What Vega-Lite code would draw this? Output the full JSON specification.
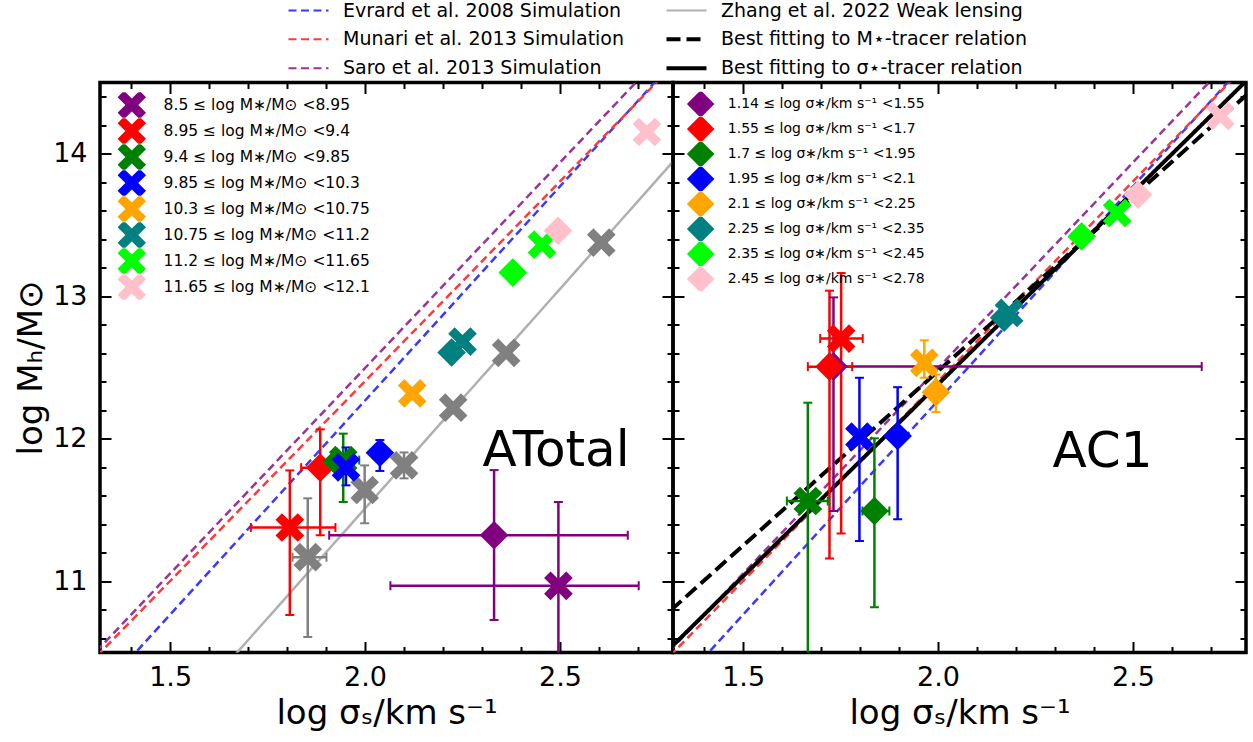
{
"$schema": "https://vega.github.io/schema/vega-lite/v6.json",
"autosize": {"type": "none"},
"padding": {"left": 100, "top": 82.5, "right": 1153, "bottom": 659.5},
"background": "white",
"config": {
  "font": "DejaVu Sans",
  "view": {"stroke": "black", "strokeWidth": 3.5},
  "axis": {"grid": false, "domain": false, "tickColor": "black", "tickWidth": 2, "labelColor": "black", "titleColor": "black", "titleFontWeight": "normal", "labelFont": "DejaVu Sans", "titleFont": "DejaVu Sans"},
  "legend": {"labelColor": "black", "labelFont": "DejaVu Sans"}
},
"datasets": {
  "lines": [
    {"p": "L", "s": "Evrard et al. 2008 Simulation", "x": 1.2, "y": 9.865},
    {"p": "L", "s": "Evrard et al. 2008 Simulation", "x": 2.9, "y": 14.972},
    {"p": "L", "s": "Munari et al. 2013 Simulation", "x": 1.2, "y": 10.161},
    {"p": "L", "s": "Munari et al. 2013 Simulation", "x": 2.9, "y": 14.927},
    {"p": "L", "s": "Saro et al. 2013 Simulation", "x": 1.2, "y": 10.189},
    {"p": "L", "s": "Saro et al. 2013 Simulation", "x": 2.9, "y": 15.092},
    {"p": "L", "s": "Zhang et al. 2022 Weak lensing", "x": 1.2, "y": 9.047},
    {"p": "L", "s": "Zhang et al. 2022 Weak lensing", "x": 2.9, "y": 14.283},
    {"p": "R", "s": "Evrard et al. 2008 Simulation", "x": 1.2, "y": 9.865},
    {"p": "R", "s": "Evrard et al. 2008 Simulation", "x": 2.9, "y": 14.972},
    {"p": "R", "s": "Munari et al. 2013 Simulation", "x": 1.2, "y": 10.161},
    {"p": "R", "s": "Munari et al. 2013 Simulation", "x": 2.9, "y": 14.927},
    {"p": "R", "s": "Saro et al. 2013 Simulation", "x": 1.2, "y": 10.189},
    {"p": "R", "s": "Saro et al. 2013 Simulation", "x": 2.9, "y": 15.092},
    {"p": "R", "s": "Best fitting to M⋆-tracer relation", "x": 1.2, "y": 10.516},
    {"p": "R", "s": "Best fitting to M⋆-tracer relation", "x": 2.9, "y": 14.678},
    {"p": "R", "s": "Best fitting to σ⋆-tracer relation", "x": 1.2, "y": 10.227},
    {"p": "R", "s": "Best fitting to σ⋆-tracer relation", "x": 2.9, "y": 14.806}
  ],
  "texts": [
    {"p": "L", "t": "ATotal", "x": 2.49, "y": 11.809},
    {"p": "R", "t": "AC1", "x": 2.422, "y": 11.799}
  ],
  "pts": [
    {"p": "L", "k": "Z", "c": "Zhang", "x": 1.853, "y": 11.169, "xl": 1.814, "xh": 1.901, "yl": 10.609, "yh": 11.582},
    {"p": "L", "k": "Z", "c": "Zhang", "x": 1.999, "y": 11.64, "xl": 1.999, "xh": 1.999, "yl": 11.407, "yh": 11.813},
    {"p": "L", "k": "Z", "c": "Zhang", "x": 2.1, "y": 11.813, "xl": 2.1, "xh": 2.1, "yl": 11.722, "yh": 11.904},
    {"p": "L", "k": "Z", "c": "Zhang", "x": 2.226, "y": 12.218, "xl": 2.226, "xh": 2.226, "yl": 12.218, "yh": 12.218},
    {"p": "L", "k": "Z", "c": "Zhang", "x": 2.362, "y": 12.603, "xl": 2.362, "xh": 2.362, "yl": 12.603, "yh": 12.603},
    {"p": "L", "k": "Z", "c": "Zhang", "x": 2.606, "y": 13.376, "xl": 2.606, "xh": 2.606, "yl": 13.376, "yh": 13.376},
    {"p": "L", "k": "X", "c": "8.5 ≤ log M∗/M⊙ <8.95", "x": 2.496, "y": 10.968, "xl": 2.065, "xh": 2.702, "yl": 10.2, "yh": 11.556},
    {"p": "L", "k": "D", "c": "1.14 ≤ log σ∗/km s⁻¹ <1.55", "x": 2.331, "y": 11.323, "xl": 1.908, "xh": 2.674, "yl": 10.728, "yh": 11.78},
    {"p": "L", "k": "X", "c": "8.95 ≤ log M∗/M⊙ <9.4", "x": 1.807, "y": 11.377, "xl": 1.707, "xh": 1.924, "yl": 10.763, "yh": 11.778},
    {"p": "L", "k": "D", "c": "1.55 ≤ log σ∗/km s⁻¹ <1.7", "x": 1.885, "y": 11.797, "xl": 1.836, "xh": 1.918, "yl": 11.323, "yh": 12.066},
    {"p": "L", "k": "D", "c": "1.7 ≤ log σ∗/km s⁻¹ <1.95", "x": 1.928, "y": 11.84, "xl": 1.928, "xh": 1.928, "yl": 11.84, "yh": 11.84},
    {"p": "L", "k": "X", "c": "9.4 ≤ log M∗/M⊙ <9.85", "x": 1.944, "y": 11.85, "xl": 1.915, "xh": 1.985, "yl": 11.556, "yh": 12.036},
    {"p": "L", "k": "X", "c": "9.85 ≤ log M∗/M⊙ <10.3", "x": 1.951, "y": 11.799, "xl": 1.951, "xh": 1.951, "yl": 11.673, "yh": 11.939},
    {"p": "L", "k": "D", "c": "1.95 ≤ log σ∗/km s⁻¹ <2.1", "x": 2.038, "y": 11.902, "xl": 2.038, "xh": 2.038, "yl": 11.774, "yh": 11.991},
    {"p": "L", "k": "X", "c": "10.3 ≤ log M∗/M⊙ <10.75", "x": 2.121, "y": 12.318, "xl": 2.121, "xh": 2.121, "yl": 12.318, "yh": 12.318},
    {"p": "L", "k": "D", "c": "2.25 ≤ log σ∗/km s⁻¹ <2.35", "x": 2.222, "y": 12.605, "xl": 2.222, "xh": 2.222, "yl": 12.605, "yh": 12.605},
    {"p": "L", "k": "X", "c": "10.75 ≤ log M∗/M⊙ <11.2", "x": 2.25, "y": 12.682, "xl": 2.25, "xh": 2.25, "yl": 12.682, "yh": 12.682},
    {"p": "L", "k": "D", "c": "2.35 ≤ log σ∗/km s⁻¹ <2.45", "x": 2.379, "y": 13.166, "xl": 2.379, "xh": 2.379, "yl": 13.166, "yh": 13.166},
    {"p": "L", "k": "X", "c": "11.2 ≤ log M∗/M⊙ <11.65", "x": 2.454, "y": 13.362, "xl": 2.454, "xh": 2.454, "yl": 13.362, "yh": 13.362},
    {"p": "L", "k": "D", "c": "2.45 ≤ log σ∗/km s⁻¹ <2.78", "x": 2.495, "y": 13.46, "xl": 2.495, "xh": 2.495, "yl": 13.46, "yh": 13.46},
    {"p": "L", "k": "X", "c": "11.65 ≤ log M∗/M⊙ <12.1", "x": 2.723, "y": 14.153, "xl": 2.723, "xh": 2.723, "yl": 14.153, "yh": 14.153},
    {"p": "R", "k": "D", "c": "1.14 ≤ log σ∗/km s⁻¹ <1.55", "x": 1.7317, "y": 12.507, "xl": 1.7, "xh": 2.6764, "yl": 11.493, "yh": 12.992},
    {"p": "R", "k": "D", "c": "1.55 ≤ log σ∗/km s⁻¹ <1.7", "x": 1.7215, "y": 12.506, "xl": 1.6659, "xh": 1.7796, "yl": 11.16, "yh": 13.039},
    {"p": "R", "k": "X", "c": "8.95 ≤ log M∗/M⊙ <9.4", "x": 1.7514, "y": 12.703, "xl": 1.6976, "xh": 1.8067, "yl": 11.335, "yh": 13.163},
    {"p": "R", "k": "X", "c": "9.4 ≤ log M∗/M⊙ <9.85", "x": 1.6659, "y": 11.563, "xl": 1.6121, "xh": 1.7171, "yl": 10.2, "yh": 12.253},
    {"p": "R", "k": "D", "c": "1.7 ≤ log σ∗/km s⁻¹ <1.95", "x": 1.8367, "y": 11.493, "xl": 1.806, "xh": 1.8751, "yl": 10.817, "yh": 12.003},
    {"p": "R", "k": "X", "c": "9.85 ≤ log M∗/M⊙ <10.3", "x": 1.7983, "y": 12.015, "xl": 1.7983, "xh": 1.7983, "yl": 11.283, "yh": 12.428},
    {"p": "R", "k": "D", "c": "1.95 ≤ log σ∗/km s⁻¹ <2.1", "x": 1.8963, "y": 12.019, "xl": 1.8963, "xh": 1.8963, "yl": 11.435, "yh": 12.362},
    {"p": "R", "k": "X", "c": "10.3 ≤ log M∗/M⊙ <10.75", "x": 1.9647, "y": 12.533, "xl": 1.9647, "xh": 1.9647, "yl": 12.428, "yh": 12.691},
    {"p": "R", "k": "D", "c": "2.1 ≤ log σ∗/km s⁻¹ <2.25", "x": 1.9946, "y": 12.327, "xl": 1.9946, "xh": 1.9946, "yl": 12.187, "yh": 12.451},
    {"p": "R", "k": "D", "c": "2.25 ≤ log σ∗/km s⁻¹ <2.35", "x": 2.1695, "y": 12.85, "xl": 2.1695, "xh": 2.1695, "yl": 12.85, "yh": 12.85},
    {"p": "R", "k": "X", "c": "10.75 ≤ log M∗/M⊙ <11.2", "x": 2.1823, "y": 12.883, "xl": 2.1823, "xh": 2.1823, "yl": 12.883, "yh": 12.883},
    {"p": "R", "k": "D", "c": "2.35 ≤ log σ∗/km s⁻¹ <2.45", "x": 2.3684, "y": 13.42, "xl": 2.3684, "xh": 2.3684, "yl": 13.42, "yh": 13.42},
    {"p": "R", "k": "X", "c": "11.2 ≤ log M∗/M⊙ <11.65", "x": 2.4596, "y": 13.584, "xl": 2.4596, "xh": 2.4596, "yl": 13.584, "yh": 13.584},
    {"p": "R", "k": "D", "c": "2.45 ≤ log σ∗/km s⁻¹ <2.78", "x": 2.5133, "y": 13.712, "xl": 2.5133, "xh": 2.5133, "yl": 13.712, "yh": 13.712},
    {"p": "R", "k": "X", "c": "11.65 ≤ log M∗/M⊙ <12.1", "x": 2.7243, "y": 14.265, "xl": 2.7243, "xh": 2.7243, "yl": 14.265, "yh": 14.265}
  ]
},
"spacing": 0,
"bounds": "flush",
"resolve": {"scale": {"color": "independent", "stroke": "independent", "strokeDash": "independent", "shape": "independent", "fill": "independent"}},
"hconcat": [
{
  "width": 573, "height": 570,
  "resolve": {"axis": {"x": "independent", "y": "independent"}},
  "layer": [
    {"data": {"name": "lines"}, "transform": [{"filter": "datum.p == 'L'"}],
     "mark": {"type": "line", "clip": true},
     "encoding": {
       "x": {"field": "x", "type": "quantitative", "scale": {"domain": [1.32, 2.79], "nice": false, "zero": false},
             "axis": {"orient": "bottom", "values": [1.5, 2.0, 2.5], "tickSize": -11, "labelExpr": "format(datum.value,'.1f')", "labelFontSize": 27, "labelPadding": 23, "labelFlush": false, "labelOverlap": false, "title": "log σₛ/km s⁻¹", "titleFontSize": 34, "titlePadding": 6}},
       "y": {"field": "y", "type": "quantitative", "scale": {"domain": [10.5, 14.5], "nice": false, "zero": false},
             "axis": {"orient": "left", "values": [11, 12, 13, 14], "tickSize": -11, "labelExpr": "format(datum.value,'d')", "labelFontSize": 27, "labelPadding": 24, "labelFlush": false, "labelOverlap": false, "title": "log Mₕ/M⊙", "titleFontSize": 34, "titlePadding": 4}},
       "stroke": {"field": "s", "type": "nominal",
         "scale": {"domain": ["Evrard et al. 2008 Simulation", "Munari et al. 2013 Simulation", "Saro et al. 2013 Simulation", "Zhang et al. 2022 Weak lensing", "Best fitting to M⋆-tracer relation", "Best fitting to σ⋆-tracer relation"], "range": ["#3a3aff", "#ff3a3a", "#993399", "#b0b0b0", "#000000", "#000000"]},
         "legend": {"title": null, "orient": "none", "legendX": 199, "legendY": -81.7, "columns": 2, "columnPadding": 33, "rowPadding": 9, "symbolType": "stroke", "symbolSize": 1600, "labelFontSize": 19, "labelOffset": 25, "labelLimit": 600, "padding": 0, "encode": {"symbols": {"update": {"strokeWidth": {"signal": "(datum.value == 'Best fitting to M⋆-tracer relation' || datum.value == 'Best fitting to σ⋆-tracer relation') ? 4 : 2"}}}}}},
       "strokeDash": {"field": "s", "type": "nominal",
         "scale": {"domain": ["Evrard et al. 2008 Simulation", "Munari et al. 2013 Simulation", "Saro et al. 2013 Simulation", "Zhang et al. 2022 Weak lensing", "Best fitting to M⋆-tracer relation", "Best fitting to σ⋆-tracer relation"], "range": [[8,4.5],[8,4.5],[8,4.5],[1,0],[14,6],[1,0]]},
         "legend": {"title": null, "orient": "none", "legendX": 199, "legendY": -81.7, "columns": 2, "columnPadding": 33, "rowPadding": 9, "symbolType": "stroke", "symbolSize": 1600, "labelFontSize": 19, "labelOffset": 25, "labelLimit": 600, "padding": 0, "encode": {"symbols": {"update": {"strokeWidth": {"signal": "(datum.value == 'Best fitting to M⋆-tracer relation' || datum.value == 'Best fitting to σ⋆-tracer relation') ? 4 : 2"}}}}}},
       "strokeWidth": {"condition": {"test": "datum.s == 'Best fitting to M⋆-tracer relation' || datum.s == 'Best fitting to σ⋆-tracer relation'", "value": 4}, "value": 2.5}
     }},
    {"data": {"name": "pts"}, "transform": [{"filter": "datum.p == 'L' && datum.yl < datum.yh"}],
     "mark": {"type": "rule", "clip": true, "strokeWidth": 2.5},
     "encoding": {
       "x": {"field": "x", "type": "quantitative", "scale": {"domain": [1.32, 2.79], "nice": false, "zero": false},
             "axis": {"orient": "bottom", "values": [1.4,1.6,1.7,1.8,1.9,2.1,2.2,2.3,2.4,2.6,2.7], "tickSize": -6, "labels": false, "title": null}},
       "y": {"field": "yl", "type": "quantitative", "scale": {"domain": [10.5, 14.5], "nice": false, "zero": false},
             "axis": {"orient": "left", "values": [10.6,10.8,11.2,11.4,11.6,11.8,12.2,12.4,12.6,12.8,13.2,13.4,13.6,13.8,14.2,14.4], "tickSize": -6, "labels": false, "title": null}},
       "y2": {"field": "yh"},
       "color": {"field": "c", "type": "nominal", "legend": null,
         "scale": {"domain": ["8.5 ≤ log M∗/M⊙ <8.95", "8.95 ≤ log M∗/M⊙ <9.4", "9.4 ≤ log M∗/M⊙ <9.85", "9.85 ≤ log M∗/M⊙ <10.3", "10.3 ≤ log M∗/M⊙ <10.75", "10.75 ≤ log M∗/M⊙ <11.2", "11.2 ≤ log M∗/M⊙ <11.65", "11.65 ≤ log M∗/M⊙ <12.1", "1.14 ≤ log σ∗/km s⁻¹ <1.55", "1.55 ≤ log σ∗/km s⁻¹ <1.7", "1.7 ≤ log σ∗/km s⁻¹ <1.95", "1.95 ≤ log σ∗/km s⁻¹ <2.1", "2.1 ≤ log σ∗/km s⁻¹ <2.25", "2.25 ≤ log σ∗/km s⁻¹ <2.35", "2.35 ≤ log σ∗/km s⁻¹ <2.45", "2.45 ≤ log σ∗/km s⁻¹ <2.78", "Zhang", "_"],
                   "range": ["#800080", "#ff0000", "#008000", "#0000ff", "#ffa500", "#008080", "#00ff00", "#ffc0cb", "#800080", "#ff0000", "#008000", "#0000ff", "#ffa500", "#008080", "#00ff00", "#ffc0cb", "#808080", "#000000"]}}
     }},
    {"data": {"name": "pts"}, "transform": [{"filter": "datum.p == 'L' && datum.xl < datum.xh"}],
     "mark": {"type": "rule", "clip": true, "strokeWidth": 2.5},
     "encoding": {
       "x": {"field": "xl", "type": "quantitative",
             "axis": {"orient": "top", "values": [1.4,1.6,1.7,1.8,1.9,2.1,2.2,2.3,2.4,2.6,2.7], "tickSize": -6, "labels": false, "title": null}},
       "x2": {"field": "xh"},
       "y": {"field": "y", "type": "quantitative",
             "axis": {"orient": "right", "values": [10.6,10.8,11.2,11.4,11.6,11.8,12.2,12.4,12.6,12.8,13.2,13.4,13.6,13.8,14.2,14.4], "tickSize": -6, "labels": false, "title": null}},
       "color": {"field": "c", "type": "nominal", "legend": null}
     }},
    {"data": {"name": "pts"}, "transform": [{"filter": "datum.p == 'L' && datum.yl < datum.yh"}],
     "mark": {"type": "tick", "orient": "horizontal", "size": 9, "thickness": 2, "clip": true, "opacity": 1},
     "encoding": {
       "x": {"field": "x", "type": "quantitative", "axis": null},
       "y": {"field": "yl", "type": "quantitative", "axis": null},
       "color": {"field": "c", "type": "nominal", "legend": null}
     }},
    {"data": {"name": "pts"}, "transform": [{"filter": "datum.p == 'L' && datum.yl < datum.yh"}],
     "mark": {"type": "tick", "orient": "horizontal", "size": 9, "thickness": 2, "clip": true, "opacity": 1},
     "encoding": {
       "x": {"field": "x", "type": "quantitative", "axis": null},
       "y": {"field": "yh", "type": "quantitative", "axis": null},
       "color": {"field": "c", "type": "nominal", "legend": null}
     }},
    {"data": {"name": "pts"}, "transform": [{"filter": "datum.p == 'L' && datum.xl < datum.xh"}],
     "mark": {"type": "tick", "orient": "vertical", "size": 9, "thickness": 2, "clip": true, "opacity": 1},
     "encoding": {
       "x": {"field": "xl", "type": "quantitative", "axis": null},
       "y": {"field": "y", "type": "quantitative", "axis": null},
       "color": {"field": "c", "type": "nominal", "legend": null}
     }},
    {"data": {"name": "pts"}, "transform": [{"filter": "datum.p == 'L' && datum.xl < datum.xh"}],
     "mark": {"type": "tick", "orient": "vertical", "size": 9, "thickness": 2, "clip": true, "opacity": 1},
     "encoding": {
       "x": {"field": "xh", "type": "quantitative", "axis": null},
       "y": {"field": "y", "type": "quantitative", "axis": null},
       "color": {"field": "c", "type": "nominal", "legend": null}
     }},
    {"data": {"name": "pts"}, "transform": [{"filter": "datum.p == 'L'"}],
     "mark": {"type": "point", "filled": true, "size": 820, "opacity": 1, "strokeWidth": 0, "clip": true},
     "encoding": {
       "x": {"field": "x", "type": "quantitative",
             "axis": {"orient": "top", "values": [1.5, 2.0, 2.5], "tickSize": -11, "labels": false, "title": null}},
       "y": {"field": "y", "type": "quantitative",
             "axis": {"orient": "right", "values": [11, 12, 13, 14], "tickSize": -11, "labels": false, "title": null}},
       "fill": {"field": "c", "type": "nominal",
         "scale": {"domain": ["8.5 ≤ log M∗/M⊙ <8.95", "8.95 ≤ log M∗/M⊙ <9.4", "9.4 ≤ log M∗/M⊙ <9.85", "9.85 ≤ log M∗/M⊙ <10.3", "10.3 ≤ log M∗/M⊙ <10.75", "10.75 ≤ log M∗/M⊙ <11.2", "11.2 ≤ log M∗/M⊙ <11.65", "11.65 ≤ log M∗/M⊙ <12.1", "1.14 ≤ log σ∗/km s⁻¹ <1.55", "1.55 ≤ log σ∗/km s⁻¹ <1.7", "1.7 ≤ log σ∗/km s⁻¹ <1.95", "1.95 ≤ log σ∗/km s⁻¹ <2.1", "2.1 ≤ log σ∗/km s⁻¹ <2.25", "2.25 ≤ log σ∗/km s⁻¹ <2.35", "2.35 ≤ log σ∗/km s⁻¹ <2.45", "2.45 ≤ log σ∗/km s⁻¹ <2.78", "Zhang"],
                   "range": ["#800080", "#ff0000", "#008000", "#0000ff", "#ffa500", "#008080", "#00ff00", "#ffc0cb", "#800080", "#ff0000", "#008000", "#0000ff", "#ffa500", "#008080", "#00ff00", "#ffc0cb", "#808080"]},
         "legend": {"title": null, "orient": "none", "legendX": 17.3, "legendY": 9.8, "values": ["8.5 ≤ log M∗/M⊙ <8.95", "8.95 ≤ log M∗/M⊙ <9.4", "9.4 ≤ log M∗/M⊙ <9.85", "9.85 ≤ log M∗/M⊙ <10.3", "10.3 ≤ log M∗/M⊙ <10.75", "10.75 ≤ log M∗/M⊙ <11.2", "11.2 ≤ log M∗/M⊙ <11.65", "11.65 ≤ log M∗/M⊙ <12.1"], "symbolType": "M-1,-0.55L-0.55,-1L0,-0.45L0.55,-1L1,-0.55L0.45,0L1,0.55L0.55,1L0,0.45L-0.55,1L-1,0.55L-0.45,0Z", "symbolSize": 645, "symbolOpacity": 1, "symbolStrokeWidth": 0, "labelFontSize": 15.5, "labelOffset": 17.3, "rowPadding": 0, "clipHeight": 25.4, "padding": 0, "labelLimit": 500, "encode": {"symbols": {"update": {"size": {"value": 810}}}}}},
       "shape": {"field": "k", "type": "nominal", "scale": {"domain": ["X", "D", "Z"], "range": ["M-1,-0.55L-0.55,-1L0,-0.45L0.55,-1L1,-0.55L0.45,0L1,0.55L0.55,1L0,0.45L-0.55,1L-1,0.55L-0.45,0Z", "diamond", "M-1,-0.55L-0.55,-1L0,-0.45L0.55,-1L1,-0.55L0.45,0L1,0.55L0.55,1L0,0.45L-0.55,1L-1,0.55L-0.45,0Z"]}, "legend": null}
     }},
    {"data": {"name": "texts"}, "transform": [{"filter": "datum.p == 'L'"}],
     "mark": {"type": "text", "fontSize": 50, "align": "center", "baseline": "alphabetic", "color": "black", "font": "DejaVu Sans"},
     "encoding": {
       "x": {"field": "x", "type": "quantitative", "axis": null},
       "y": {"field": "y", "type": "quantitative", "axis": null},
       "text": {"field": "t"}
     }}
  ]
},
{
  "width": 573, "height": 570,
  "resolve": {"axis": {"x": "independent", "y": "independent"}},
  "layer": [
    {"data": {"name": "lines"}, "transform": [{"filter": "datum.p == 'R'"}],
     "mark": {"type": "line", "clip": true},
     "encoding": {
       "x": {"field": "x", "type": "quantitative", "scale": {"domain": [1.32, 2.79], "nice": false, "zero": false},
             "axis": {"orient": "bottom", "values": [1.5, 2.0, 2.5], "tickSize": -11, "labelExpr": "format(datum.value,'.1f')", "labelFontSize": 27, "labelPadding": 23, "labelFlush": false, "labelOverlap": false, "title": "log σₛ/km s⁻¹", "titleFontSize": 34, "titlePadding": 6}},
       "y": {"field": "y", "type": "quantitative", "scale": {"domain": [10.5, 14.5], "nice": false, "zero": false},
             "axis": {"orient": "left", "values": [11, 12, 13, 14], "tickSize": -11, "labels": false, "title": null}},
       "stroke": {"field": "s", "type": "nominal",
         "scale": {"domain": ["Evrard et al. 2008 Simulation", "Munari et al. 2013 Simulation", "Saro et al. 2013 Simulation", "Zhang et al. 2022 Weak lensing", "Best fitting to M⋆-tracer relation", "Best fitting to σ⋆-tracer relation"], "range": ["#3a3aff", "#ff3a3a", "#993399", "#b0b0b0", "#000000", "#000000"]},
         "legend": null},
       "strokeDash": {"field": "s", "type": "nominal",
         "scale": {"domain": ["Evrard et al. 2008 Simulation", "Munari et al. 2013 Simulation", "Saro et al. 2013 Simulation", "Zhang et al. 2022 Weak lensing", "Best fitting to M⋆-tracer relation", "Best fitting to σ⋆-tracer relation"], "range": [[8,4.5],[8,4.5],[8,4.5],[1,0],[14,6],[1,0]]},
         "legend": null},
       "strokeWidth": {"condition": {"test": "datum.s == 'Best fitting to M⋆-tracer relation' || datum.s == 'Best fitting to σ⋆-tracer relation'", "value": 4}, "value": 2.5}
     }},
    {"data": {"name": "pts"}, "transform": [{"filter": "datum.p == 'R' && datum.yl < datum.yh"}],
     "mark": {"type": "rule", "clip": true, "strokeWidth": 2.5},
     "encoding": {
       "x": {"field": "x", "type": "quantitative", "scale": {"domain": [1.32, 2.79], "nice": false, "zero": false},
             "axis": {"orient": "bottom", "values": [1.4,1.6,1.7,1.8,1.9,2.1,2.2,2.3,2.4,2.6,2.7], "tickSize": -6, "labels": false, "title": null}},
       "y": {"field": "yl", "type": "quantitative", "scale": {"domain": [10.5, 14.5], "nice": false, "zero": false},
             "axis": {"orient": "left", "values": [10.6,10.8,11.2,11.4,11.6,11.8,12.2,12.4,12.6,12.8,13.2,13.4,13.6,13.8,14.2,14.4], "tickSize": -6, "labels": false, "title": null}},
       "y2": {"field": "yh"},
       "color": {"field": "c", "type": "nominal", "legend": null,
         "scale": {"domain": ["8.5 ≤ log M∗/M⊙ <8.95", "8.95 ≤ log M∗/M⊙ <9.4", "9.4 ≤ log M∗/M⊙ <9.85", "9.85 ≤ log M∗/M⊙ <10.3", "10.3 ≤ log M∗/M⊙ <10.75", "10.75 ≤ log M∗/M⊙ <11.2", "11.2 ≤ log M∗/M⊙ <11.65", "11.65 ≤ log M∗/M⊙ <12.1", "1.14 ≤ log σ∗/km s⁻¹ <1.55", "1.55 ≤ log σ∗/km s⁻¹ <1.7", "1.7 ≤ log σ∗/km s⁻¹ <1.95", "1.95 ≤ log σ∗/km s⁻¹ <2.1", "2.1 ≤ log σ∗/km s⁻¹ <2.25", "2.25 ≤ log σ∗/km s⁻¹ <2.35", "2.35 ≤ log σ∗/km s⁻¹ <2.45", "2.45 ≤ log σ∗/km s⁻¹ <2.78", "Zhang", "_"],
                   "range": ["#800080", "#ff0000", "#008000", "#0000ff", "#ffa500", "#008080", "#00ff00", "#ffc0cb", "#800080", "#ff0000", "#008000", "#0000ff", "#ffa500", "#008080", "#00ff00", "#ffc0cb", "#808080", "#000000"]}}
     }},
    {"data": {"name": "pts"}, "transform": [{"filter": "datum.p == 'R' && datum.xl < datum.xh"}],
     "mark": {"type": "rule", "clip": true, "strokeWidth": 2.5},
     "encoding": {
       "x": {"field": "xl", "type": "quantitative",
             "axis": {"orient": "top", "values": [1.4,1.6,1.7,1.8,1.9,2.1,2.2,2.3,2.4,2.6,2.7], "tickSize": -6, "labels": false, "title": null}},
       "x2": {"field": "xh"},
       "y": {"field": "y", "type": "quantitative",
             "axis": {"orient": "right", "values": [10.6,10.8,11.2,11.4,11.6,11.8,12.2,12.4,12.6,12.8,13.2,13.4,13.6,13.8,14.2,14.4], "tickSize": -6, "labels": false, "title": null}},
       "color": {"field": "c", "type": "nominal", "legend": null}
     }},
    {"data": {"name": "pts"}, "transform": [{"filter": "datum.p == 'R' && datum.yl < datum.yh"}],
     "mark": {"type": "tick", "orient": "horizontal", "size": 9, "thickness": 2, "clip": true, "opacity": 1},
     "encoding": {
       "x": {"field": "x", "type": "quantitative", "axis": null},
       "y": {"field": "yl", "type": "quantitative", "axis": null},
       "color": {"field": "c", "type": "nominal", "legend": null}
     }},
    {"data": {"name": "pts"}, "transform": [{"filter": "datum.p == 'R' && datum.yl < datum.yh"}],
     "mark": {"type": "tick", "orient": "horizontal", "size": 9, "thickness": 2, "clip": true, "opacity": 1},
     "encoding": {
       "x": {"field": "x", "type": "quantitative", "axis": null},
       "y": {"field": "yh", "type": "quantitative", "axis": null},
       "color": {"field": "c", "type": "nominal", "legend": null}
     }},
    {"data": {"name": "pts"}, "transform": [{"filter": "datum.p == 'R' && datum.xl < datum.xh"}],
     "mark": {"type": "tick", "orient": "vertical", "size": 9, "thickness": 2, "clip": true, "opacity": 1},
     "encoding": {
       "x": {"field": "xl", "type": "quantitative", "axis": null},
       "y": {"field": "y", "type": "quantitative", "axis": null},
       "color": {"field": "c", "type": "nominal", "legend": null}
     }},
    {"data": {"name": "pts"}, "transform": [{"filter": "datum.p == 'R' && datum.xl < datum.xh"}],
     "mark": {"type": "tick", "orient": "vertical", "size": 9, "thickness": 2, "clip": true, "opacity": 1},
     "encoding": {
       "x": {"field": "xh", "type": "quantitative", "axis": null},
       "y": {"field": "y", "type": "quantitative", "axis": null},
       "color": {"field": "c", "type": "nominal", "legend": null}
     }},
    {"data": {"name": "pts"}, "transform": [{"filter": "datum.p == 'R'"}],
     "mark": {"type": "point", "filled": true, "size": 820, "opacity": 1, "strokeWidth": 0, "clip": true},
     "encoding": {
       "x": {"field": "x", "type": "quantitative",
             "axis": {"orient": "top", "values": [1.5, 2.0, 2.5], "tickSize": -11, "labels": false, "title": null}},
       "y": {"field": "y", "type": "quantitative",
             "axis": {"orient": "right", "values": [11, 12, 13, 14], "tickSize": -11, "labels": false, "title": null}},
       "fill": {"field": "c", "type": "nominal",
         "scale": {"domain": ["8.5 ≤ log M∗/M⊙ <8.95", "8.95 ≤ log M∗/M⊙ <9.4", "9.4 ≤ log M∗/M⊙ <9.85", "9.85 ≤ log M∗/M⊙ <10.3", "10.3 ≤ log M∗/M⊙ <10.75", "10.75 ≤ log M∗/M⊙ <11.2", "11.2 ≤ log M∗/M⊙ <11.65", "11.65 ≤ log M∗/M⊙ <12.1", "1.14 ≤ log σ∗/km s⁻¹ <1.55", "1.55 ≤ log σ∗/km s⁻¹ <1.7", "1.7 ≤ log σ∗/km s⁻¹ <1.95", "1.95 ≤ log σ∗/km s⁻¹ <2.1", "2.1 ≤ log σ∗/km s⁻¹ <2.25", "2.25 ≤ log σ∗/km s⁻¹ <2.35", "2.35 ≤ log σ∗/km s⁻¹ <2.45", "2.45 ≤ log σ∗/km s⁻¹ <2.78", "Zhang"],
                   "range": ["#800080", "#ff0000", "#008000", "#0000ff", "#ffa500", "#008080", "#00ff00", "#ffc0cb", "#800080", "#ff0000", "#008000", "#0000ff", "#ffa500", "#008080", "#00ff00", "#ffc0cb", "#808080"]},
         "legend": {"title": null, "orient": "none", "legendX": 13.65, "legendY": 9.15, "values": ["1.14 ≤ log σ∗/km s⁻¹ <1.55", "1.55 ≤ log σ∗/km s⁻¹ <1.7", "1.7 ≤ log σ∗/km s⁻¹ <1.95", "1.95 ≤ log σ∗/km s⁻¹ <2.1", "2.1 ≤ log σ∗/km s⁻¹ <2.25", "2.25 ≤ log σ∗/km s⁻¹ <2.35", "2.35 ≤ log σ∗/km s⁻¹ <2.45", "2.45 ≤ log σ∗/km s⁻¹ <2.78"], "symbolType": "diamond", "symbolSize": 610, "symbolOpacity": 1, "symbolStrokeWidth": 0, "labelFontSize": 14, "labelOffset": 13.15, "rowPadding": 0, "clipHeight": 24.7, "padding": 0, "labelLimit": 500, "encode": {"symbols": {"update": {"size": {"value": 760}}}}}},
       "shape": {"field": "k", "type": "nominal", "scale": {"domain": ["X", "D", "Z"], "range": ["M-1,-0.55L-0.55,-1L0,-0.45L0.55,-1L1,-0.55L0.45,0L1,0.55L0.55,1L0,0.45L-0.55,1L-1,0.55L-0.45,0Z", "diamond", "M-1,-0.55L-0.55,-1L0,-0.45L0.55,-1L1,-0.55L0.45,0L1,0.55L0.55,1L0,0.45L-0.55,1L-1,0.55L-0.45,0Z"]}, "legend": null}
     }},
    {"data": {"name": "texts"}, "transform": [{"filter": "datum.p == 'R'"}],
     "mark": {"type": "text", "fontSize": 50, "align": "center", "baseline": "alphabetic", "color": "black", "font": "DejaVu Sans"},
     "encoding": {
       "x": {"field": "x", "type": "quantitative", "axis": null},
       "y": {"field": "y", "type": "quantitative", "axis": null},
       "text": {"field": "t"}
     }}
  ]
}
]
}
